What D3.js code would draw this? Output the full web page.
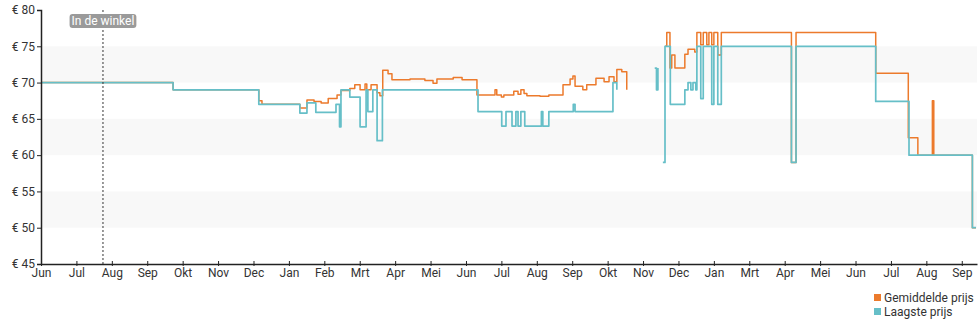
<!DOCTYPE html>
<html>
<head>
<meta charset="utf-8">
<script src="https://cdn.jsdelivr.net/npm/d3@7"></script>
<style>
  html, body { margin: 0; padding: 0; background: #fff; }
  svg { display: block; font-family: Roboto, "Noto Sans", sans-serif; }
</style>
</head>
<body>
<svg id="chart" width="980" height="325"></svg>
<script>
// Month tick labels (one per tick, evenly spaced)
const monthLabels = ["Jun","Jul","Aug","Sep","Okt","Nov","Dec","Jan","Feb","Mrt","Apr","Mei",
  "Jun","Jul","Aug","Sep","Okt","Nov","Dec","Jan","Mrt","Apr","Mei","Jun","Jul","Aug","Sep"];

// Price levels on the y axis (euro)
const priceTicks = [45, 50, 55, 60, 65, 70, 75, 80];

// Shaded price bands [from, to]
const priceBands = [[50, 55], [60, 65], [70, 75]];

// Marker for the date the product became available
const inStoreAt = 1.75;
const inStoreLabel = "In de winkel";

// Average price: [month position, euro]; null = no data
const avgPrice = [
  [0, 70], [3.73, 69], [6.15, 67.5], [6.24, 67], [7.31, 66.5], [7.51, 67.6], [7.71, 67.4],
  [7.91, 67.2], [8.11, 67.8], [8.36, 68.3], [8.47, 68.9], [8.72, 69.2], [8.86, 69.7],
  [9.01, 69], [9.15, 69.8], [9.20, 69], [9.32, 69.7], [9.49, 68.6], [9.57, 68.2],
  [9.65, 71.7], [9.80, 71.2], [9.91, 70.4], [10.42, 70.5], [10.84, 70.3], [11.07, 69.9],
  [11.18, 70.5], [11.64, 70.7], [11.89, 70.4], [12.31, 68.3], [12.82, 69], [12.87, 68.3],
  [13.0, 68], [13.07, 68.3], [13.35, 68.8], [13.47, 68.4], [13.55, 69], [13.64, 68.5],
  [13.72, 68.2], [14.09, 68.1], [14.34, 68.3], [14.74, 69.7], [14.94, 70.5], [15.02, 70.9],
  [15.08, 69.5], [15.30, 69], [15.41, 69.7], [15.67, 70.6], [15.90, 70.1], [16.04, 70.8],
  [16.18, 70.1], [16.26, 71.8], [16.40, 71.5], [16.54, 69], [16.59, null],
  [17.62, 75], [17.67, 76.9], [17.76, 72], [17.81, 73.8], [17.90, 72], [18.18, 73.9],
  [18.27, 74.6], [18.46, 74.2], [18.52, 76.9], [18.63, 75.2], [18.70, 76.9], [18.80, 75.2],
  [18.86, 76.9], [18.94, 75.2], [19.00, 76.9], [19.11, 73.8], [19.21, 76.9], [21.19, 59],
  [21.32, 76.9], [23.57, 71.3], [24.49, 62.4], [24.76, 60], [25.17, 67.5], [25.21, 60],
  [26.30, 50], [26.40, 50]
];

// Lowest price: [month position, euro]; null = no data
const lowPrice = [
  [0, 70], [3.73, 69], [6.15, 67], [7.31, 65.8], [7.51, 67.2], [7.76, 65.9], [8.33, 67],
  [8.43, 63.9], [8.47, 69], [8.72, 68], [9.01, 63.9], [9.18, 69], [9.23, 66], [9.37, 69],
  [9.49, 62], [9.64, 69], [12.34, 66], [13.01, 64], [13.13, 66], [13.30, 64], [13.41, 66],
  [13.47, 64], [13.55, 66], [13.66, 64], [14.13, 66], [14.17, 64], [14.34, 66], [15.03, 67],
  [15.08, 66], [16.15, 70], [16.26, 69], [16.69, null],
  [17.33, 72], [17.38, 69], [17.42, 72], [17.47, null],
  [17.56, 59], [17.62, 75], [17.77, 67], [18.18, 69], [18.27, 70], [18.35, 69], [18.41, 70],
  [18.49, 69], [18.52, 75], [18.63, 67.8], [18.70, 75], [18.94, 67], [19.00, 75], [19.11, 67],
  [19.21, 75], [21.19, 59], [21.32, 75], [23.57, 67.4], [24.51, 60], [26.30, 50], [26.40, 50]
];

const series = [
  { name: "Gemiddelde prijs", color: "#ec7a2c", values: avgPrice, width: 1.5 },
  { name: "Laagste prijs", color: "#66bfc8", values: lowPrice, width: 1.7 }
];

const svg = d3.select("#chart");
const margin = { left: 41, right: 3, top: 10, bottom: 61 };
const W = 980, H = 325;

const x = d3.scaleLinear().domain([0, 26.43]).range([margin.left, W - margin.right]);
const y = d3.scaleLinear().domain([45, 80]).range([H - margin.bottom, margin.top]);

// Background bands
svg.append("g").selectAll("rect").data(priceBands).join("rect")
  .attr("x", x(0)).attr("width", x.range()[1] - x(0))
  .attr("y", d => y(d[1])).attr("height", d => y(d[0]) - y(d[1]))
  .attr("fill", "#f8f8f8");

// Price lines (lowest drawn last, on top)
const line = d3.line()
  .defined(d => d[1] !== null)
  .x(d => x(d[0])).y(d => y(d[1]))
  .curve(d3.curveStepAfter);

svg.append("g").selectAll("path").data(series).join("path")
  .attr("d", d => line(d.values))
  .attr("fill", "none")
  .attr("stroke", d => d.color)
  .attr("stroke-width", d => d.width)
  .attr("stroke-linejoin", "round");

// "In de winkel" marker
svg.append("line")
  .attr("x1", x(inStoreAt)).attr("x2", x(inStoreAt))
  .attr("y1", y(80)).attr("y2", y(45))
  .attr("stroke", "#333").attr("stroke-width", 1).attr("stroke-dasharray", "2,2");
const lbl = svg.append("g").attr("transform", `translate(${x(inStoreAt)},21)`);
const lblText = lbl.append("text").text(inStoreLabel)
  .attr("text-anchor", "middle").attr("dy", "0.35em")
  .attr("font-size", 12).attr("fill", "#fff");
const bb = lblText.node().getBBox();
lbl.insert("rect", "text")
  .attr("x", bb.x - 2).attr("y", -7).attr("width", bb.width + 4).attr("height", 14)
  .attr("rx", 3).attr("fill", "#9a9a9a");

// Axes
const yAxis = d3.axisLeft(y).tickValues(priceTicks).tickSize(4).tickPadding(2)
  .tickFormat(d => "€ " + d);
const gy = svg.append("g").attr("transform", `translate(${margin.left},0)`).call(yAxis);
gy.select(".domain").attr("stroke", "#222").attr("stroke-width", 1.5);
gy.selectAll(".tick line").attr("stroke", "#222");
gy.selectAll("text").attr("font-size", 12).attr("fill", "#333").attr("font-family", "Roboto, sans-serif");

const xAxis = d3.axisBottom(x).tickValues(d3.range(monthLabels.length))
  .tickFormat(i => monthLabels[i]).tickSize(2).tickPadding(2).tickSizeOuter(0);
const gx = svg.append("g").attr("transform", `translate(0,${y(45)})`).call(xAxis);
gx.select(".domain").attr("stroke", "#222").attr("stroke-width", 1.5);
gx.selectAll(".tick line").attr("stroke", "#222").attr("y1", -3).attr("y2", 2);
gx.selectAll("text").attr("font-size", 12).attr("fill", "#333").attr("font-family", "Roboto, sans-serif");

// Legend
const legend = svg.append("g").attr("transform", "translate(874,294)");
const li = legend.selectAll("g").data(series).join("g")
  .attr("transform", (d, i) => `translate(0,${i * 14})`);
li.append("rect").attr("width", 7).attr("height", 7).attr("fill", d => d.color);
li.append("text").attr("x", 10).attr("y", 4).attr("dy", "0.35em")
  .attr("font-size", 12).attr("fill", "#333").text(d => d.name);
</script>
</body>
</html>
